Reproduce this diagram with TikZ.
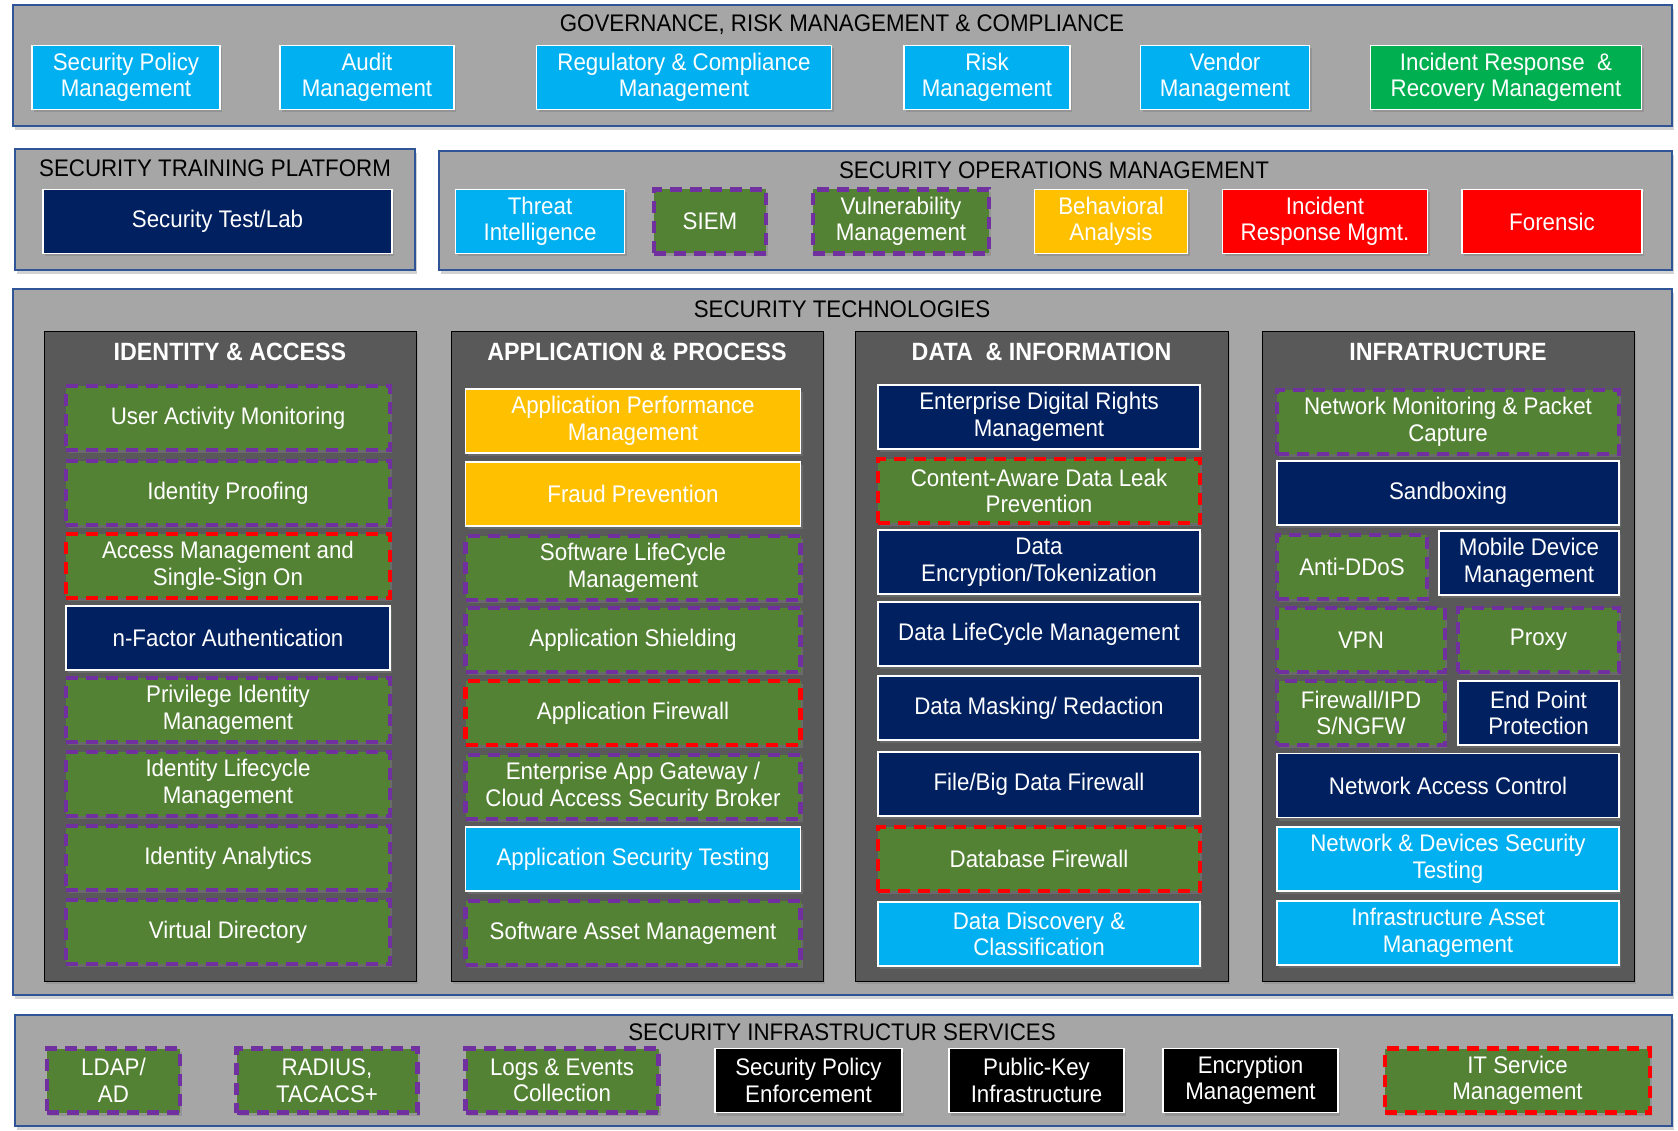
\documentclass[tikz,border=0pt]{standalone}
\usepackage{fontspec}
\setmainfont{Liberation Sans}[FakeStretch=0.93]
\usetikzlibrary{shadows}

\definecolor{skyblue}{HTML}{00B0F0}
\definecolor{navyblue}{HTML}{002060}
\definecolor{leafgreen}{HTML}{00B050}
\definecolor{olivegreen}{HTML}{548235}
\definecolor{dashpurple}{HTML}{7030A0}
\definecolor{amber}{HTML}{FFC000}
\definecolor{alertred}{HTML}{FF0000}
\definecolor{panelgray}{HTML}{A6A6A6}
\definecolor{colgray}{HTML}{595959}
\definecolor{panelblue}{HTML}{2F5597}

\newcommand{\tilefont}{\fontsize{24}{26.5}\selectfont}
\newcommand{\headfont}{\fontsize{24}{26}\selectfont}
\newcommand{\colfont}{\fontsize{25}{27}\selectfont\bfseries}

\tikzset{
  panel/.style={fill=panelgray, draw=panelblue, line width=1.5pt,
    drop shadow={shadow xshift=2pt, shadow yshift=-4pt, opacity=0.35}},
  column/.style={fill=colgray,
    drop shadow={shadow xshift=2pt, shadow yshift=-3pt, opacity=0.35}},
  heading/.style={font=\headfont, text=black, inner sep=0pt},
  colhead/.style={font=\colfont, text=white, inner sep=0pt},
  tile/.style={minimum height=64pt, inner sep=0pt, align=center, text=white,
    font=\tilefont, drop shadow={shadow xshift=2pt, shadow yshift=-3pt, opacity=0.45}},
  plainbox/.style={tile, draw=white, line width=1.3pt},
  cyanbox/.style={plainbox, fill=skyblue},
  navybox/.style={plainbox, fill=navyblue},
  blackbox/.style={plainbox, fill=black},
  yellowbox/.style={plainbox, fill=amber},
  redbox/.style={plainbox, fill=alertred},
  greenbox/.style={plainbox, fill=leafgreen},
  purpledash/.style={tile, fill=olivegreen, draw=dashpurple, line width=4.2pt,
    dash pattern=on 12pt off 8pt},
  reddash/.style={tile, fill=olivegreen, draw=alertred, line width=4.2pt,
    dash pattern=on 12pt off 8pt}
}

\begin{document}
\begin{tikzpicture}[x=1pt, y=-1pt]
\fill[white] (0,0) rectangle (1678,1131);
\useasboundingbox (0,0) rectangle (1678,1131);

% governance
\draw[panel] (13,5) rectangle (1672,126);
\node[heading] (grc) at (842,25) {GOVERNANCE, RISK MANAGEMENT \& COMPLIANCE};
\node[cyanbox, minimum width=188pt] (policy) at (126,77.5) {Security Policy\\Management};
\node[cyanbox, minimum width=174pt] (audit) at (367,77.5) {Audit\\Management};
\node[cyanbox, minimum width=295pt] (regul) at (684,77.5) {Regulatory \& Compliance\\Management};
\node[cyanbox, minimum width=166pt] (risk) at (987,77.5) {Risk\\Management};
\node[cyanbox, minimum width=169pt] (vendor) at (1225,77.5) {Vendor\\Management};
\node[greenbox, minimum width=271pt] (recovery) at (1506,77.5) {Incident Response \ \&\\Recovery Management};

% training
\draw[panel] (15,149) rectangle (415,270);
\node[heading] (training) at (215,168) {SECURITY TRAINING PLATFORM};
\node[navybox, minimum width=349pt] (testlab) at (217.5,221.5) {Security Test/Lab};

% operations
\draw[panel] (439,151) rectangle (1672,270);
\node[heading] (secops) at (1054,170) {SECURITY OPERATIONS MANAGEMENT};
\node[cyanbox, minimum width=169pt] (threat) at (540,221.5) {Threat\\Intelligence};
\node[purpledash, minimum width=112pt] (siem) at (710,221.5) {SIEM};
\node[purpledash, minimum width=176pt] (vuln) at (901,221.5) {Vulnerability\\Management};
\node[yellowbox, minimum width=153pt] (behav) at (1111,221.5) {Behavioral\\Analysis};
\node[redbox, minimum width=205pt] (irmgmt) at (1325,221.5) {Incident\\Response Mgmt.};
\node[redbox, minimum width=180pt] (forensic) at (1552,221.5) {Forensic};

% technologies
\draw[panel] (13,289) rectangle (1672,995);
\node[heading] (tech) at (842,309) {SECURITY TECHNOLOGIES};
\draw[column] (44,331) rectangle (416,981);
\draw[column] (451,331) rectangle (823,981);
\draw[column] (855,331) rectangle (1228,981);
\draw[column] (1262,331) rectangle (1634,981);
\node[colhead] (identity) at (230,352) {IDENTITY \& ACCESS};
\node[colhead] (appproc) at (637,352) {APPLICATION \& PROCESS};
\node[colhead] (datainfo) at (1041.5,352) {DATA \ \& INFORMATION};
\node[colhead] (infra) at (1448,352) {INFRATRUCTURE};

% identity & access
\node[purpledash, minimum width=324pt] (uam) at (228,418) {User Activity Monitoring};
\node[purpledash, minimum width=324pt] (proofing) at (228,493) {Identity Proofing};
\node[reddash, minimum width=324pt] (sso) at (228,566) {Access Management and\\Single-Sign On};
\node[navybox, minimum width=324pt] (nfactor) at (228,638) {n-Factor Authentication};
\node[purpledash, minimum width=324pt] (privilege) at (228,710) {Privilege Identity\\Management};
\node[purpledash, minimum width=324pt] (lifecycle) at (228,784) {Identity Lifecycle\\Management};
\node[purpledash, minimum width=324pt] (analytics) at (228,858) {Identity Analytics};
\node[purpledash, minimum width=324pt] (directory) at (228,932) {Virtual Directory};

% application & process
\node[yellowbox, minimum width=335pt] (apm) at (633,421) {Application Performance\\Management};
\node[yellowbox, minimum width=335pt] (fraud) at (633,494) {Fraud Prevention};
\node[purpledash, minimum width=335pt] (sdlc) at (633,568) {Software LifeCycle\\Management};
\node[purpledash, minimum width=335pt] (shield) at (633,640) {Application Shielding};
\node[reddash, minimum width=335pt] (appfw) at (633,713) {Application Firewall};
\node[purpledash, minimum width=335pt] (casb) at (633,787) {Enterprise App Gateway /\\Cloud Access Security Broker};
\node[cyanbox, minimum width=335pt] (apptest) at (633,859) {Application Security Testing};
\node[purpledash, minimum width=335pt] (swasset) at (633,933) {Software Asset Management};

% data & information
\node[navybox, minimum width=322pt] (edrm) at (1039,417) {Enterprise Digital Rights\\Management};
\node[reddash, minimum width=322pt] (dlp) at (1039,491) {Content-Aware Data Leak\\Prevention};
\node[navybox, minimum width=322pt] (encrypt) at (1039,562) {Data\\Encryption/Tokenization};
\node[navybox, minimum width=322pt] (datalife) at (1039,634) {Data LifeCycle Management};
\node[navybox, minimum width=322pt] (masking) at (1039,708) {Data Masking/ Redaction};
\node[navybox, minimum width=322pt] (bigdata) at (1039,784) {File/Big Data Firewall};
\node[reddash, minimum width=322pt] (dbfw) at (1039,859) {Database Firewall};
\node[cyanbox, minimum width=322pt] (discovery) at (1039,934) {Data Discovery \&\\Classification};

% infrastructure
\node[purpledash, minimum width=342pt] (netmon) at (1448,422) {Network Monitoring \& Packet\\Capture};
\node[navybox, minimum width=342pt] (sandbox) at (1448,493) {Sandboxing};
\node[purpledash, minimum width=150pt] (ddos) at (1352,567) {Anti-DDoS};
\node[navybox, minimum width=180pt] (mdm) at (1529,563) {Mobile Device\\Management};
\node[purpledash, minimum width=168pt] (vpn) at (1361,640) {VPN};
\node[purpledash, minimum width=161pt] (proxy) at (1538.5,640) {Proxy};
\node[purpledash, minimum width=168pt] (ngfw) at (1361,713) {Firewall/IPD\\S/NGFW};
\node[navybox, minimum width=161pt] (endpoint) at (1538.5,713) {End Point\\Protection};
\node[navybox, minimum width=342pt] (nac) at (1448,785.5) {Network Access Control};
\node[cyanbox, minimum width=342pt] (nettest) at (1448,859) {Network \& Devices Security\\Testing};
\node[cyanbox, minimum width=342pt] (infasset) at (1448,933) {Infrastructure Asset\\Management};

% infrastructure services
\draw[panel] (15,1015) rectangle (1672,1126);
\node[heading] (services) at (842,1032) {SECURITY INFRASTRUCTUR SERVICES};
\node[purpledash, minimum width=133pt] (ldap) at (113.5,1080.5) {LDAP/\\AD};
\node[purpledash, minimum width=181pt] (radius) at (327,1080.5) {RADIUS,\\TACACS+};
\node[purpledash, minimum width=193pt] (logs) at (562,1080.5) {Logs \& Events\\Collection};
\node[blackbox, minimum width=187pt] (enforce) at (808.5,1080.5) {Security Policy\\Enforcement};
\node[blackbox, minimum width=175pt] (pki) at (1036.5,1080.5) {Public-Key\\Infrastructure};
\node[blackbox, minimum width=175pt] (encmgmt) at (1250.5,1080.5) {Encryption\\Management};
\node[reddash, minimum width=265pt] (itsm) at (1517.5,1080.5) {IT Service\\Management};
\end{tikzpicture}
\end{document}
